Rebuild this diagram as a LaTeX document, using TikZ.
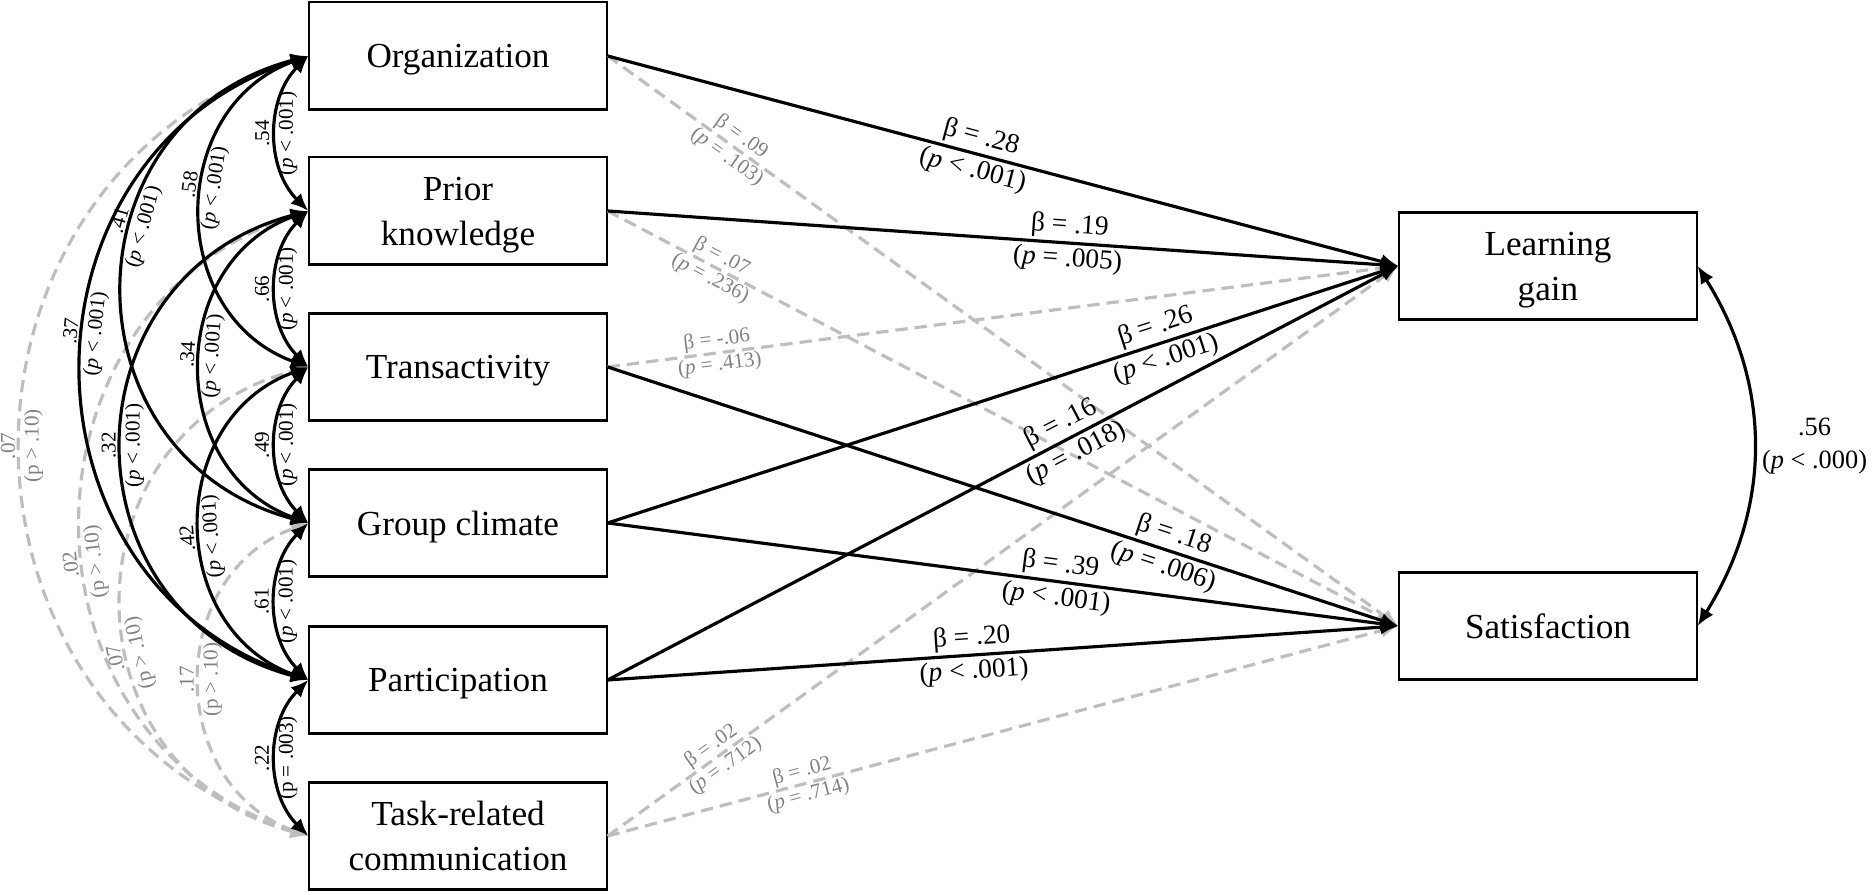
\documentclass[tikz,border=0pt]{standalone}
\usepackage{fontspec}
\setmainfont{Liberation Serif}
\usepackage{tikz}
\usetikzlibrary{arrows.meta}
\definecolor{nsline}{RGB}{190,190,190}
\definecolor{nstext}{RGB}{130,130,130}

\begin{document}
\begin{tikzpicture}[x=0.01cm,y=0.01cm,
            varbox/.style={draw,line width=0.6pt,minimum width=2.97cm,minimum height=1.07cm,inner sep=0pt,text depth=0pt,align=center,font=\fontsize{10}{12.8}\selectfont},
            sig/.style={line width=0.9pt,-{Latex[length=5pt,width=4.2pt]}},
            nsig/.style={sig,nsline,dash pattern=on 3.5pt off 2pt},
            cov/.style={line width=0.9pt,{Latex[length=5pt,width=4.2pt]}-{Latex[length=5pt,width=4.2pt]}},
            ncov/.style={cov,nsline,dash pattern=on 3.5pt off 2pt},
            blab/.style={sloped,align=center,inner sep=1.5pt,font=\fontsize{7.8}{9.6}\selectfont},
            glab/.style={sloped,align=center,inner sep=1pt,text=nstext,font=\fontsize{6}{7}\selectfont},
            clab/.style={sloped,allow upside down,align=center,inner sep=1pt,font=\fontsize{6}{6.8}\selectfont},
            nclab/.style={clab,text=nstext},
            span1/.style={bend left=45},
            span2/.style={bend left=70,looseness=1.25},
            span3/.style={bend left=75,looseness=1.4},
            span4/.style={bend left=72,looseness=1.3},
            span5/.style={bend left=72,looseness=1.32}]
            \useasboundingbox (0,0) rectangle (1872,892);

            \node[varbox] (org) at (458,836) {Organization};
            \node[varbox] (pk) at (458,681) {Prior\\knowledge};
            \node[varbox] (trans) at (458,525) {Transactivity};
            \node[varbox] (gc) at (458,369) {Group climate};
            \node[varbox] (part) at (458,212) {Participation};
            \node[varbox] (task) at (458,56) {Task-related\\communication};
            \node[varbox] (lg) at (1548,626) {Learning\\gain};
            \node[varbox] (sat) at (1548,266) {Satisfaction};

            % non-significant paths first
            \draw[nsig] (org.east) -- node[glab,pos=.16] {β = .09\\(\textit{p} = .103)} (sat.west);
            \draw[nsig] (pk.east) -- node[glab,pos=.137] {β = .07\\(\textit{p} = .236)} (sat.west);
            \draw[nsig] (trans.east) -- node[glab,pos=.14] {β = -.06\\(\textit{p} = .413)} (lg.west);
            \draw[nsig] (task.east) -- node[glab,pos=.14] {β = .02\\(\textit{p} = .712)} (lg.west);
            \draw[nsig] (task.east) -- node[glab,pos=.25] {β = .02\\(\textit{p} = .714)} (sat.west);

            \draw[sig] (org.east) -- node[blab,pos=.467] {β = .28\\(\textit{p} < .001)} (lg.west);
            \draw[sig] (pk.east) -- node[blab,pos=.583] {β = .19\\(\textit{p} = .005)} (lg.west);
            \draw[sig] (trans.east) -- node[blab,pos=.71] {β = .18\\(\textit{p} = .006)} (sat.west);
            \draw[sig] (gc.east) -- node[blab,pos=.70] {β = .26\\(\textit{p} < .001)} (lg.west);
            \draw[sig] (gc.east) -- node[blab,pos=.57] {β = .39\\(\textit{p} < .001)} (sat.west);
            \draw[sig] (part.east) -- node[blab,pos=.583] {β = .16\\(\textit{p} = .018)} (lg.west);
            \draw[sig] (part.east) -- node[blab,pos=.462] {β = .20\\(\textit{p} < .001)} (sat.west);

            % covariances
            \draw[ncov,span5] (task.west) to node[nclab,pos=.5] {.07\\(p > .10)} (org.west);
            \draw[ncov,span4] (task.west) to node[nclab,pos=.45] {.02\\(p > .10)} (pk.west);
            \draw[ncov,span3] (task.west) to node[nclab,pos=.41] {.07\\(p > .10)} (trans.west);
            \draw[ncov,span2] (task.west) to node[nclab,pos=.5] {.17\\(p > .10)} (gc.west);

            \draw[cov,span1] (pk.west) to node[clab] {.54\\(\textit{p} < .001)} (org.west);
            \draw[cov,span1] (trans.west) to node[clab] {.66\\(\textit{p} < .001)} (pk.west);
            \draw[cov,span1] (gc.west) to node[clab] {.49\\(\textit{p} < .001)} (trans.west);
            \draw[cov,span1] (part.west) to node[clab] {.61\\(\textit{p} < .001)} (gc.west);
            \draw[cov,span1] (task.west) to node[clab] {.22\\(p = .003)} (part.west);
            \draw[cov,span2] (trans.west) to node[clab,pos=.565] {.58\\(\textit{p} < .001)} (org.west);
            \draw[cov,span2] (gc.west) to node[clab,pos=.53] {.34\\(\textit{p} < .001)} (pk.west);
            \draw[cov,span2] (part.west) to node[clab,pos=.465] {.42\\(\textit{p} < .001)} (trans.west);
            \draw[cov,span3] (gc.west) to node[clab,pos=.61] {.41\\(\textit{p} < .001)} (org.west);
            \draw[cov,span3] (part.west) to node[clab,pos=.5] {.32\\(\textit{p} < .001)} (pk.west);
            \draw[cov,span4] (part.west) to node[clab,pos=.545] {.37\\(\textit{p} < .001)} (org.west);

            \draw[cov] (sat.east) to[bend right=32] node[right,inner sep=2pt,align=center,font=\fontsize{7.5}{9.4}\selectfont] {.56\\(\textit{p} < .000)} (lg.east);
        \end{tikzpicture}
\end{document}
